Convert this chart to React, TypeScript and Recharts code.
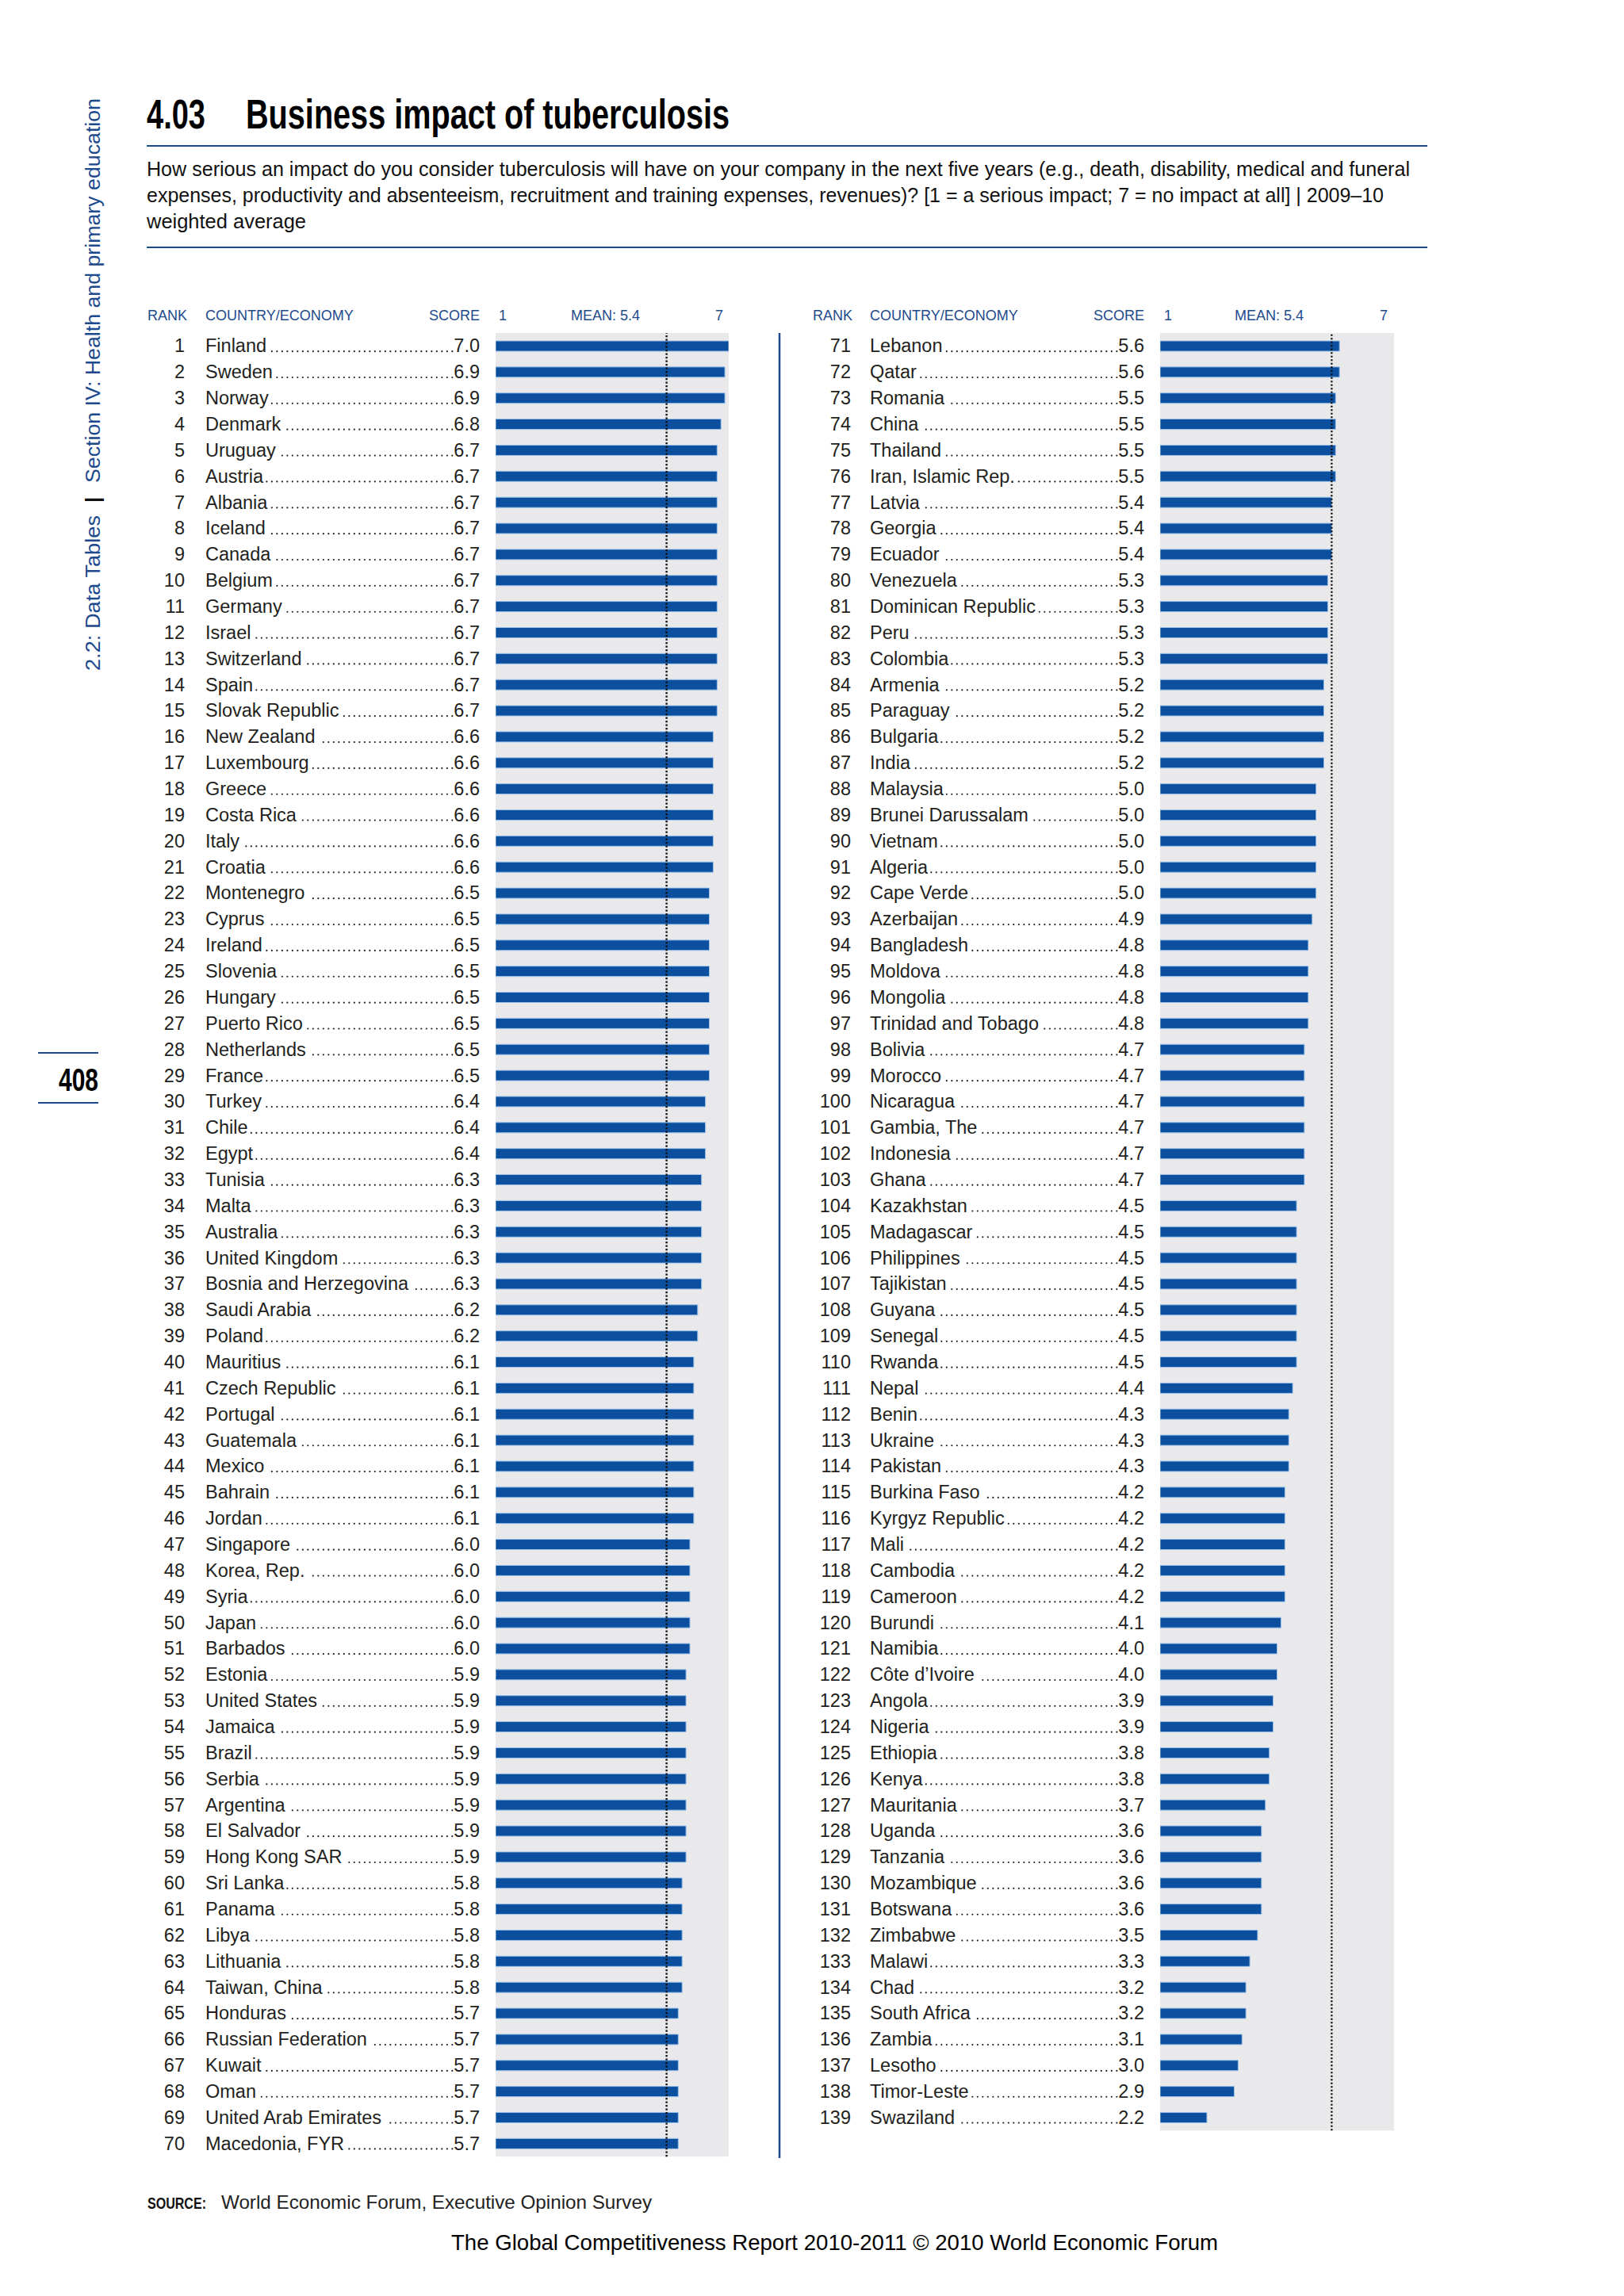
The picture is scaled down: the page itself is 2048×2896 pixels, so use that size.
import React from 'react';
import { BarChart, Bar, XAxis, YAxis, CartesianGrid, ReferenceLine } from 'recharts';

const leftCountries = [
  'Finland', 'Sweden', 'Norway', 'Denmark', 'Uruguay', 'Austria', 'Albania', 'Iceland', 'Canada', 'Belgium',
  'Germany', 'Israel', 'Switzerland', 'Spain', 'Slovak Republic', 'New Zealand', 'Luxembourg', 'Greece', 'Costa Rica', 'Italy',
  'Croatia', 'Montenegro', 'Cyprus', 'Ireland', 'Slovenia', 'Hungary', 'Puerto Rico', 'Netherlands', 'France', 'Turkey',
  'Chile', 'Egypt', 'Tunisia', 'Malta', 'Australia', 'United Kingdom', 'Bosnia and Herzegovina', 'Saudi Arabia', 'Poland', 'Mauritius',
  'Czech Republic', 'Portugal', 'Guatemala', 'Mexico', 'Bahrain', 'Jordan', 'Singapore', 'Korea, Rep.', 'Syria', 'Japan',
  'Barbados', 'Estonia', 'United States', 'Jamaica', 'Brazil', 'Serbia', 'Argentina', 'El Salvador', 'Hong Kong SAR', 'Sri Lanka',
  'Panama', 'Libya', 'Lithuania', 'Taiwan, China', 'Honduras', 'Russian Federation', 'Kuwait', 'Oman', 'United Arab Emirates', 'Macedonia, FYR',
];
const leftScores = [
  7.0, 6.9, 6.9, 6.8, 6.7, 6.7, 6.7, 6.7, 6.7, 6.7,
  6.7, 6.7, 6.7, 6.7, 6.7, 6.6, 6.6, 6.6, 6.6, 6.6,
  6.6, 6.5, 6.5, 6.5, 6.5, 6.5, 6.5, 6.5, 6.5, 6.4,
  6.4, 6.4, 6.3, 6.3, 6.3, 6.3, 6.3, 6.2, 6.2, 6.1,
  6.1, 6.1, 6.1, 6.1, 6.1, 6.1, 6.0, 6.0, 6.0, 6.0,
  6.0, 5.9, 5.9, 5.9, 5.9, 5.9, 5.9, 5.9, 5.9, 5.8,
  5.8, 5.8, 5.8, 5.8, 5.7, 5.7, 5.7, 5.7, 5.7, 5.7,
];
const rightCountries = [
  'Lebanon', 'Qatar', 'Romania', 'China', 'Thailand', 'Iran, Islamic Rep.', 'Latvia', 'Georgia', 'Ecuador', 'Venezuela',
  'Dominican Republic', 'Peru', 'Colombia', 'Armenia', 'Paraguay', 'Bulgaria', 'India', 'Malaysia', 'Brunei Darussalam', 'Vietnam',
  'Algeria', 'Cape Verde', 'Azerbaijan', 'Bangladesh', 'Moldova', 'Mongolia', 'Trinidad and Tobago', 'Bolivia', 'Morocco', 'Nicaragua',
  'Gambia, The', 'Indonesia', 'Ghana', 'Kazakhstan', 'Madagascar', 'Philippines', 'Tajikistan', 'Guyana', 'Senegal', 'Rwanda',
  'Nepal', 'Benin', 'Ukraine', 'Pakistan', 'Burkina Faso', 'Kyrgyz Republic', 'Mali', 'Cambodia', 'Cameroon', 'Burundi',
  'Namibia', 'Côte d\u2019Ivoire', 'Angola', 'Nigeria', 'Ethiopia', 'Kenya', 'Mauritania', 'Uganda', 'Tanzania', 'Mozambique',
  'Botswana', 'Zimbabwe', 'Malawi', 'Chad', 'South Africa', 'Zambia', 'Lesotho', 'Timor-Leste', 'Swaziland',
];
const rightScores = [
  5.6, 5.6, 5.5, 5.5, 5.5, 5.5, 5.4, 5.4, 5.4, 5.3,
  5.3, 5.3, 5.3, 5.2, 5.2, 5.2, 5.2, 5.0, 5.0, 5.0,
  5.0, 5.0, 4.9, 4.8, 4.8, 4.8, 4.8, 4.7, 4.7, 4.7,
  4.7, 4.7, 4.7, 4.5, 4.5, 4.5, 4.5, 4.5, 4.5, 4.5,
  4.4, 4.3, 4.3, 4.3, 4.2, 4.2, 4.2, 4.2, 4.2, 4.1,
  4.0, 4.0, 3.9, 3.9, 3.8, 3.8, 3.7, 3.6, 3.6, 3.6,
  3.6, 3.5, 3.3, 3.2, 3.2, 3.1, 3.0, 2.9, 2.2,
];
const MEAN = 5.4;
const AXIS_DOMAIN: [number, number] = [1, 7];
const headerLabels = ['RANK', 'COUNTRY/ECONOMY', 'SCORE', '1', 'MEAN: 5.4', '7'];

type Row = { rank: number; name: string; score: number };
const leftRows: Row[] = leftCountries.map((name, i) => ({ rank: 1 + i, name, score: leftScores[i] }));
const rightRows: Row[] = rightCountries.map((name, i) => ({ rank: 71 + i, name, score: rightScores[i] }));

const NAVY = '#1d4a8c';
const BAR = '#0b4f9e';
const TEXT = '#231f20';
const FONT = "'Liberation Sans', Arial, Helvetica, sans-serif";
const ROW_FS = 23.5;
const BAND = 32.86;
const TOP = 420;
const CH = 2800;

let ctx: CanvasRenderingContext2D | null = null;
function textWidth(s: string, size: number) {
  if (!ctx) {
    const c = document.createElement('canvas');
    ctx = c.getContext('2d');
  }
  if (!ctx) return s.length * size * 0.5;
  ctx.font = `${size}px ${FONT}`;
  return ctx.measureText(s).width;
}

type Cfg = { rankRight: number; nameX: number; scoreRight: number };

function makeTick(rows: Row[], cfg: Cfg) {
  return (props: any) => {
    const { y, payload } = props;
    const row = rows.find((r) => r.name === payload.value);
    if (!row) return <g />;
    const base = y + 8;
    const nameW = textWidth(row.name, ROW_FS);
    const scoreStr = row.score.toFixed(1);
    const scoreW = textWidth(scoreStr, ROW_FS);
    const dotStart = cfg.nameX + nameW + 4;
    const dotEnd = cfg.scoreRight - scoreW - 2;
    return (
      <g>
        <text x={cfg.rankRight} y={base} textAnchor="end" fontSize={ROW_FS} fontFamily={FONT} fill={TEXT}>
          {row.rank}
        </text>
        <text x={cfg.nameX} y={base} fontSize={ROW_FS} fontFamily={FONT} fill={TEXT}>
          {row.name}
        </text>
        {dotEnd > dotStart && (
          <line
            x1={dotEnd}
            x2={dotStart}
            y1={base - 1.3}
            y2={base - 1.3}
            stroke={TEXT}
            strokeWidth={2.2}
            strokeLinecap="round"
            strokeDasharray="0 6.5"
          />
        )}
        <text x={cfg.scoreRight} y={base} textAnchor="end" fontSize={ROW_FS} fontFamily={FONT} fill={TEXT}>
          {scoreStr}
        </text>
      </g>
    );
  };
}

type PanelProps = {
  rows: Row[];
  left: number;
  width: number;
  yAxisWidth: number;
  marginRight: number;
  cfg: Cfg;
};

function Panel({ rows, left, width, yAxisWidth, marginRight, cfg }: PanelProps) {
  const plotH = rows.length * BAND;
  return (
    <div style={{ position: 'absolute', left, top: 0 }}>
      <BarChart
        width={width}
        height={CH}
        data={rows}
        layout="vertical"
        margin={{ top: TOP, right: marginRight, bottom: CH - TOP - plotH, left: 0 }}
        barSize={13}
      >
        <CartesianGrid horizontal={false} vertical={false} fill="#e9e9eb" fillOpacity={1} stroke="none" />
        <XAxis type="number" domain={AXIS_DOMAIN} hide allowDataOverflow />
        <YAxis
          type="category"
          dataKey="name"
          width={yAxisWidth}
          interval={0}
          tickLine={false}
          axisLine={false}
          tick={makeTick(rows, cfg)}
        />
        <Bar dataKey="score" fill={BAR} stroke="#9cc2ea" strokeWidth={1} isAnimationActive={false} />
        <ReferenceLine x={MEAN} stroke="#111" strokeWidth={2.4} strokeDasharray="2.2 2.3" />
      </BarChart>
    </div>
  );
}

function Header({ rankX, nameX, scoreRight, oneX, meanX, sevenRight }: any) {
  const common = { fontSize: 18, fontFamily: FONT, fill: NAVY, y: 404 } as any;
  return (
    <g>
      <text {...common} x={rankX}>{headerLabels[0]}</text>
      <text {...common} x={nameX}>{headerLabels[1]}</text>
      <text {...common} x={scoreRight} textAnchor="end">{headerLabels[2]}</text>
      <text {...common} x={oneX}>{headerLabels[3]}</text>
      <text {...common} x={meanX}>{headerLabels[4]}</text>
      <text {...common} x={sevenRight} textAnchor="end">{headerLabels[5]}</text>
    </g>
  );
}

export default function App() {
  return (
    <div style={{ position: 'absolute', left: 0, top: 0, width: 2048, height: 2896, background: '#fff', overflow: 'hidden' }}>
      <svg width={2048} height={2896} style={{ position: 'absolute', left: 0, top: 0 }}>
        {/* sidebar */}
        <g transform="translate(126,846) rotate(-90)">
          <text x={0} y={0} fontSize={26} fontFamily={FONT} fill={NAVY} textLength={196} lengthAdjust="spacingAndGlyphs">
            2.2: Data Tables
          </text>
          <text x={212} y={0} fontSize={26} fontFamily={FONT} fill="#111" fontWeight="bold">|</text>
          <text x={237} y={0} fontSize={26} fontFamily={FONT} fill={NAVY} textLength={485} lengthAdjust="spacingAndGlyphs">
            Section IV: Health and primary education
          </text>
        </g>
        {/* page number */}
        <line x1={48} x2={124} y1={1328} y2={1328} stroke={NAVY} strokeWidth={2} />
        <text x={74} y={1376} fontSize={41} fontWeight="bold" fontFamily={FONT} fill="#000" textLength={50} lengthAdjust="spacingAndGlyphs">
          408
        </text>
        <line x1={48} x2={124} y1={1391} y2={1391} stroke={NAVY} strokeWidth={2} />
        {/* title */}
        <text x={185} y={162} fontSize={51} fontWeight="bold" fontFamily={FONT} fill="#000" textLength={74} lengthAdjust="spacingAndGlyphs">
          4.03
        </text>
        <text x={310} y={162} fontSize={51} fontWeight="bold" fontFamily={FONT} fill="#000" textLength={610} lengthAdjust="spacingAndGlyphs">
          Business impact of tuberculosis
        </text>
        <line x1={185} x2={1800} y1={184} y2={184} stroke={NAVY} strokeWidth={2.2} />
        <text x={185} y={222} fontSize={26} fontFamily={FONT} fill="#111" textLength={1593} lengthAdjust="spacingAndGlyphs">
          How serious an impact do you consider tuberculosis will have on your company in the next five years (e.g., death, disability, medical and funeral
        </text>
        <text x={185} y={255} fontSize={26} fontFamily={FONT} fill="#111" textLength={1560} lengthAdjust="spacingAndGlyphs">
          expenses, productivity and absenteeism, recruitment and training expenses, revenues)? [1 = a serious impact; 7 = no impact at all]  |  2009–10
        </text>
        <text x={185} y={288} fontSize={26} fontFamily={FONT} fill="#111" textLength={201} lengthAdjust="spacingAndGlyphs">
          weighted average
        </text>
        <line x1={185} x2={1800} y1={312} y2={312} stroke={NAVY} strokeWidth={2.2} />
        {/* column headers */}
        <Header rankX={186} nameX={259} scoreRight={605} oneX={629} meanX={720} sevenRight={912} />
        <Header rankX={1025} nameX={1097} scoreRight={1443} oneX={1468} meanX={1557} sevenRight={1750} />
        {/* divider */}
        <line x1={983} x2={983} y1={420} y2={2722} stroke={NAVY} strokeWidth={2.5} />
        {/* source */}
        <text x={186} y={2786} fontSize={20} fontWeight="bold" fontFamily={FONT} fill="#111" textLength={74} lengthAdjust="spacingAndGlyphs">
          SOURCE:
        </text>
        <text x={279} y={2786} fontSize={24} fontFamily={FONT} fill="#222" textLength={543} lengthAdjust="spacingAndGlyphs">
          World Economic Forum, Executive Opinion Survey
        </text>
        <text x={569} y={2838} fontSize={28} fontFamily={FONT} fill="#000" textLength={967} lengthAdjust="spacingAndGlyphs">
          The Global Competitiveness Report 2010-2011 © 2010 World Economic Forum
        </text>
      </svg>
      <Panel
        rows={leftRows}
        left={0}
        width={1000}
        yAxisWidth={625}
        marginRight={81}
        cfg={{ rankRight: 233, nameX: 259, scoreRight: 605 }}
      />
      <Panel
        rows={rightRows}
        left={1000}
        width={1048}
        yAxisWidth={463}
        marginRight={290}
        cfg={{ rankRight: 73, nameX: 97, scoreRight: 443 }}
      />
    </div>
  );
}
